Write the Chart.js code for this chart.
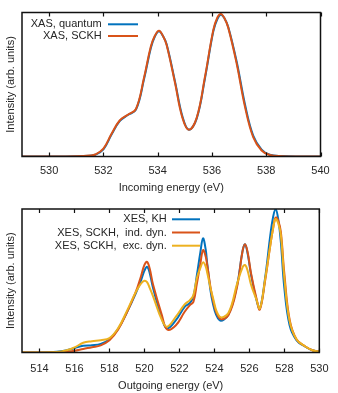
<!DOCTYPE html>
<html><head><meta charset="utf-8">
<script src="https://cdn.jsdelivr.net/npm/chart.js@4/dist/chart.umd.min.js"></script>
<style>
html,body{margin:0;padding:0;background:#fff;}
#wrap{width:338px;height:393px;position:relative;overflow:hidden;}
canvas{position:absolute;left:0;}
</style></head><body>
<div id="wrap">
<canvas id="c1" width="338" height="195" style="top:0"></canvas>
<canvas id="c2" width="338" height="198" style="top:195px"></canvas>
</div>
<script>
// ---- XAS (top panel) ----
const xasEnergy  = [529, 530, 531, 531.5, 531.7, 532.0, 532.3, 532.6, 532.9, 533.2, 533.5, 533.75, 533.9, 534.05, 534.2, 534.33, 534.64, 534.91, 535.15, 535.44, 535.74, 536.05, 536.2, 536.33, 536.46, 536.6, 536.91, 537.22, 537.52, 537.83, 538.13, 538.6, 539.2, 540];
const xasQuantum = [0, 0, 0.002, 0.006, 0.012, 0.050, 0.152, 0.245, 0.288, 0.325, 0.540, 0.755, 0.835, 0.870, 0.835, 0.780, 0.520, 0.280, 0.186, 0.265, 0.540, 0.870, 0.955, 0.985, 0.960, 0.900, 0.660, 0.360, 0.145, 0.048, 0.012, 0.003, 0, 0];
const xasSCKH    = [0, 0, 0.002, 0.007, 0.014, 0.054, 0.158, 0.250, 0.290, 0.330, 0.550, 0.765, 0.840, 0.873, 0.835, 0.775, 0.510, 0.270, 0.186, 0.270, 0.550, 0.878, 0.965, 0.990, 0.960, 0.895, 0.646, 0.343, 0.134, 0.042, 0.010, 0.002, 0, 0];
const xasTicks   = [530, 532, 534, 536, 538, 540];

// ---- XES (bottom panel) ----
const xesEnergy = [513, 514, 515, 515.5, 516, 516.5, 517, 517.5, 518, 518.5, 519, 519.5, 519.8, 520.0, 520.15, 520.3, 520.5, 521.0, 521.3, 521.8, 522.3, 522.6, 522.8, 523.0, 523.2, 523.35, 523.5, 523.6, 523.9, 524.3, 524.8, 525.3, 525.6, 525.75, 525.9, 526.1, 526.4, 526.6, 526.9, 527.2, 527.35, 527.5, 527.65, 527.8, 528.0, 528.3, 528.7, 529.2, 529.6, 530];
const xesKH     = [0, 0, 0.005, 0.014, 0.030, 0.047, 0.051, 0.060, 0.093, 0.165, 0.280, 0.410, 0.500, 0.570, 0.597, 0.555, 0.446, 0.237, 0.167, 0.225, 0.318, 0.345, 0.390, 0.540, 0.700, 0.795, 0.720, 0.610, 0.350, 0.225, 0.265, 0.470, 0.700, 0.754, 0.690, 0.540, 0.370, 0.307, 0.520, 0.820, 0.940, 1.000, 0.930, 0.770, 0.450, 0.190, 0.085, 0.040, 0.016, 0.005];
const xesIndDyn = [0, 0, 0.002, 0.004, 0.012, 0.025, 0.037, 0.050, 0.085, 0.160, 0.280, 0.420, 0.530, 0.610, 0.632, 0.585, 0.470, 0.260, 0.160, 0.190, 0.284, 0.330, 0.353, 0.480, 0.620, 0.714, 0.670, 0.600, 0.377, 0.237, 0.260, 0.460, 0.700, 0.754, 0.700, 0.550, 0.380, 0.300, 0.500, 0.750, 0.860, 0.940, 0.920, 0.840, 0.550, 0.230, 0.090, 0.042, 0.016, 0.005];
const xesExcDyn = [0, 0, 0.004, 0.014, 0.035, 0.068, 0.079, 0.086, 0.100, 0.170, 0.290, 0.420, 0.480, 0.500, 0.490, 0.450, 0.390, 0.226, 0.180, 0.250, 0.335, 0.365, 0.400, 0.520, 0.590, 0.628, 0.600, 0.550, 0.390, 0.250, 0.275, 0.480, 0.590, 0.610, 0.570, 0.470, 0.370, 0.307, 0.510, 0.750, 0.860, 0.930, 0.900, 0.820, 0.520, 0.220, 0.090, 0.042, 0.016, 0.005];
const xesTicks  = [514, 516, 518, 520, 522, 524, 526, 528, 530];

const FONT = '"Liberation Sans", Arial, sans-serif';
const TXT = '#262626';

const frameLegend = {
  id: 'frameLegend',
  afterDatasetsDraw(chart, args, opts) {
    const ctx = chart.ctx, a = chart.chartArea, xs = chart.scales.x;
    ctx.save();
    ctx.strokeStyle = '#111';
    ctx.lineWidth = 1.2;
    xs.ticks.forEach(t => {
      const p = Math.round(xs.getPixelForValue(t.value)) + 0.5;
      ctx.beginPath();
      ctx.moveTo(p, a.bottom); ctx.lineTo(p, a.bottom - 4);
      ctx.moveTo(p, a.top); ctx.lineTo(p, a.top + 4);
      ctx.stroke();
    });
    ctx.lineWidth = 1.5;
    ctx.strokeRect(a.left, a.top, a.right - a.left, a.bottom - a.top);
    ctx.font = '11px ' + FONT;
    ctx.textAlign = 'right';
    ctx.textBaseline = 'middle';
    ctx.fillStyle = TXT;
    chart.data.datasets.forEach((ds, i) => {
      const y = opts.y0 + i * opts.dy;
      ctx.fillText(ds.label, opts.textRight, y);
      ctx.strokeStyle = ds.borderColor;
      ctx.lineWidth = 2;
      ctx.beginPath(); ctx.moveTo(opts.x1, y); ctx.lineTo(opts.x2, y); ctx.stroke();
    });
    ctx.restore();
  }
};

function makeChart(id, energy, series, ticks, xmin, xmax, xTitle, xH, padTop, tickPad, legend) {
  return new Chart(document.getElementById(id), {
    type: 'line',
    data: {
      datasets: series.map(s => ({
        label: s.label,
        data: energy.map((x, i) => ({x: x, y: s.values[i]})),
        borderColor: s.color,
        borderWidth: 2,
        pointRadius: 0,
        fill: false,
        tension: 0.4,
        order: s.order
      }))
    },
    options: {
      responsive: false,
      animation: false,
      devicePixelRatio: 1,
      layout: {padding: {top: padTop, right: 17.5, left: 0, bottom: 0}},
      plugins: {legend: {display: false}, tooltip: {enabled: false}, frameLegend: legend},
      scales: {
        x: {
          type: 'linear', min: xmin, max: xmax,
          afterBuildTicks: sc => { sc.ticks = ticks.map(v => ({value: v})); },
          afterFit: sc => { sc.height = xH; },
          grid: {display: false, drawTicks: false},
          border: {display: false},
          ticks: {padding: tickPad, color: TXT, font: {family: FONT, size: 11}, maxRotation: 0},
          title: {display: true, text: xTitle, color: TXT, font: {family: FONT, size: 11}, padding: {top: 0, bottom: 0}}
        },
        y: {
          min: 0, max: 1.0,
          afterFit: sc => { sc.width = 22; },
          grid: {display: false, drawTicks: false},
          border: {display: false},
          ticks: {display: false},
          title: {display: true, text: 'Intensity (arb. units)', color: TXT, font: {family: FONT, size: 11}, padding: {top: 4, bottom: 0}}
        }
      }
    },
    plugins: [frameLegend]
  });
}

makeChart('c1', xasEnergy, [
  {label: 'XAS, quantum', values: xasQuantum, color: '#0072BD', order: 2},
  {label: 'XAS, SCKH', values: xasSCKH, color: '#D95319', order: 1}
], xasTicks, 529, 540, 'Incoming energy (eV)', 38.5, 12.5, 8,
  {textRight: 101.7, x1: 108, x2: 138, y0: 24.3, dy: 11.7});

makeChart('c2', xesEnergy, [
  {label: 'XES, KH', values: xesKH, color: '#0072BD', order: 3},
  {label: 'XES, SCKH,  ind. dyn.', values: xesIndDyn, color: '#D95319', order: 2},
  {label: 'XES, SCKH,  exc. dyn.', values: xesExcDyn, color: '#EDB120', order: 1}
], xesTicks, 513, 530, 'Outgoing energy (eV)', 40.5, 14, 9.5,
  {textRight: 166.7, x1: 172, x2: 200, y0: 24.3, dy: 13.2});
</script>
</body></html>
